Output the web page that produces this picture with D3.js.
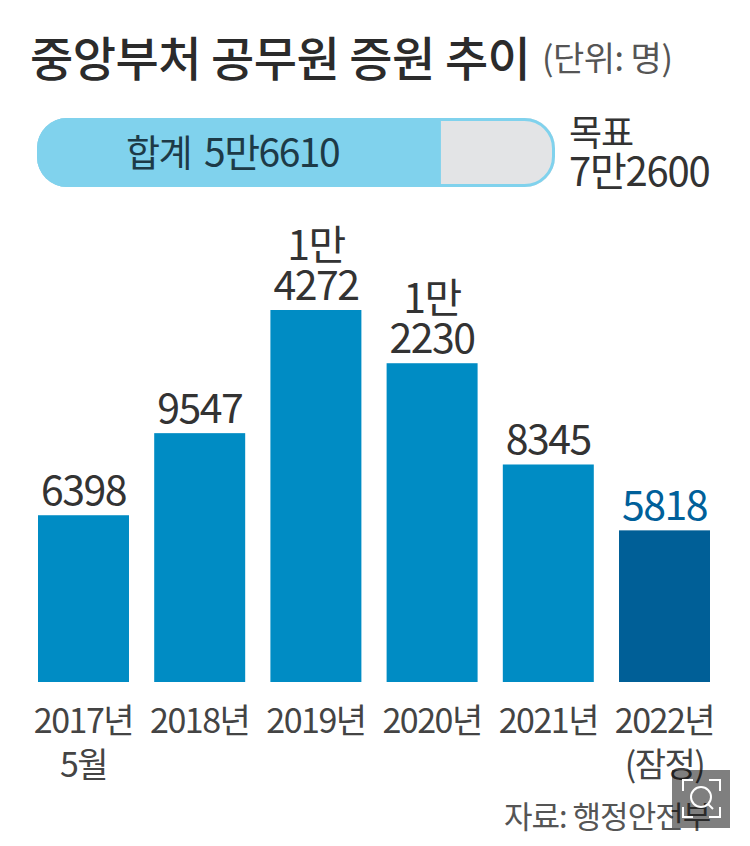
<!DOCTYPE html>
<html>
<head>
<meta charset="utf-8">
<script src="https://cdn.jsdelivr.net/npm/d3@7"></script>
<style>
body { margin: 0; background: #fff; }
text { font-family: "Noto Sans CJK KR", sans-serif; }
</style>
</head>
<body>
<div id="content"></div>
<script>
var width = 750, height = 846;

// data
var years = [["2017년", "5월"], ["2018년"], ["2019년"], ["2020년"], ["2021년"], ["2022년", "(잠정)"]];
var hires = [6398, 9547, 14272, 12230, 8345, 5818];
var hireLabels = [["6398"], ["9547"], ["1만", "4272"], ["1만", "2230"], ["8345"], ["5818"]];
var total = 56610;
var target = 72600;

var svg = d3.select("#content")
  .append("svg")
  .attr("width", width)
  .attr("height", height)
  .style("display", "block");

// title
svg.append("text")
  .attr("x", 30).attr("y", 76)
  .attr("fill", "#2b2b2b")
  .attr("font-size", 47)
  .attr("font-weight", 500)
  .attr("letter-spacing", -0.5)
  .text("중앙부처 공무원 증원 추이");

svg.append("text")
  .attr("x", 542).attr("y", 71)
  .attr("fill", "#555")
  .attr("font-size", 34)
  .attr("letter-spacing", -0.5)
  .text("(단위: 명)");

// gauge
var gaugeX = d3.scaleLinear().domain([0, target]).range([37, 555]);
var gaugeTop = 118, gaugeH = 69;

svg.append("defs").append("clipPath").attr("id", "gaugeClip")
  .append("rect")
  .attr("x", gaugeX(0)).attr("y", gaugeTop)
  .attr("width", gaugeX(target) - gaugeX(0)).attr("height", gaugeH)
  .attr("rx", 30);

svg.append("rect")
  .attr("x", gaugeX(0)).attr("y", gaugeTop)
  .attr("width", gaugeX(target) - gaugeX(0)).attr("height", gaugeH)
  .attr("rx", 30)
  .attr("fill", "#e3e4e6");

svg.append("rect")
  .attr("x", gaugeX(0)).attr("y", gaugeTop)
  .attr("width", gaugeX(total) - gaugeX(0)).attr("height", gaugeH)
  .attr("clip-path", "url(#gaugeClip)")
  .attr("fill", "#80d2ed");

svg.append("rect")
  .attr("x", gaugeX(0) + 1.5).attr("y", gaugeTop + 1.5)
  .attr("width", gaugeX(target) - gaugeX(0) - 3).attr("height", gaugeH - 3)
  .attr("rx", 29)
  .attr("fill", "none")
  .attr("stroke", "#80d2ed")
  .attr("stroke-width", 3);

svg.append("text")
  .attr("x", 126).attr("y", 167)
  .attr("fill", "#1d3a47")
  .attr("font-size", 37)
  .attr("letter-spacing", -1.5)
  .text("합계");

svg.append("text")
  .attr("x", 204).attr("y", 167)
  .attr("fill", "#1d3a47")
  .attr("font-size", 39)
  .attr("letter-spacing", -1.5)
  .text("5만6610");

svg.selectAll(".targetLabel")
  .data(["목표", "7만2600"])
  .join("text")
  .attr("class", "targetLabel")
  .attr("x", 569)
  .attr("y", (d, i) => 146 + i * 40)
  .attr("fill", "#333")
  .attr("font-size", (d, i) => i == 0 ? 36 : 40)
  .attr("letter-spacing", -1.2)
  .text(d => d);

// bars
var x = d3.scaleBand()
  .domain(d3.range(years.length))
  .range([38, 710])
  .paddingInner(0.217);

var y = d3.scaleLinear()
  .domain([0, d3.max(hires)])
  .range([682, 310]);

svg.selectAll(".bar")
  .data(hires)
  .join("rect")
  .attr("class", "bar")
  .attr("x", (d, i) => x(i))
  .attr("y", d => y(d))
  .attr("width", x.bandwidth())
  .attr("height", d => y(0) - y(d))
  .attr("fill", (d, i) => i == hires.length - 1 ? "#005f97" : "#008cc4");

// value labels
hires.forEach(function(v, i) {
  var lines = hireLabels[i];
  lines.forEach(function(t, j) {
    svg.append("text")
      .attr("x", x(i) + x.bandwidth() / 2)
      .attr("y", y(v) - 10 - (lines.length - 1 - j) * 40)
      .attr("text-anchor", "middle")
      .attr("fill", i == hires.length - 1 ? "#00609a" : "#333")
      .attr("font-size", 41)
      .attr("letter-spacing", -1.5)
      .text(t);
  });
});

// category labels
years.forEach(function(lines, i) {
  lines.forEach(function(t, j) {
    svg.append("text")
      .attr("x", x(i) + x.bandwidth() / 2)
      .attr("y", 733 + j * 44)
      .attr("text-anchor", "middle")
      .attr("fill", "#444")
      .attr("font-size", 34)
      .attr("letter-spacing", -1.5)
      .text(t);
  });
});

// source
svg.append("text")
  .attr("x", 504).attr("y", 828)
  .attr("fill", "#555")
  .attr("font-size", 31)
  .attr("letter-spacing", -1)
  .text("자료: 행정안전부");

// zoom button overlay from the screenshot
var btn = svg.append("g").attr("transform", "translate(672,770)");
btn.append("rect").attr("width", 58).attr("height", 58).attr("fill", "#000").attr("opacity", 0.5);
btn.append("path")
  .attr("d", "M11 21V10H21 M37 10H48V21 M48 37V47H37 M21 47H11V37")
  .attr("fill", "none").attr("stroke", "#fff").attr("stroke-width", 2);
btn.append("circle").attr("cx", 29).attr("cy", 27).attr("r", 10)
  .attr("fill", "none").attr("stroke", "#fff").attr("stroke-width", 2);
btn.append("line").attr("x1", 36).attr("y1", 34).attr("x2", 41).attr("y2", 39)
  .attr("stroke", "#fff").attr("stroke-width", 2);
</script>
</body>
</html>
